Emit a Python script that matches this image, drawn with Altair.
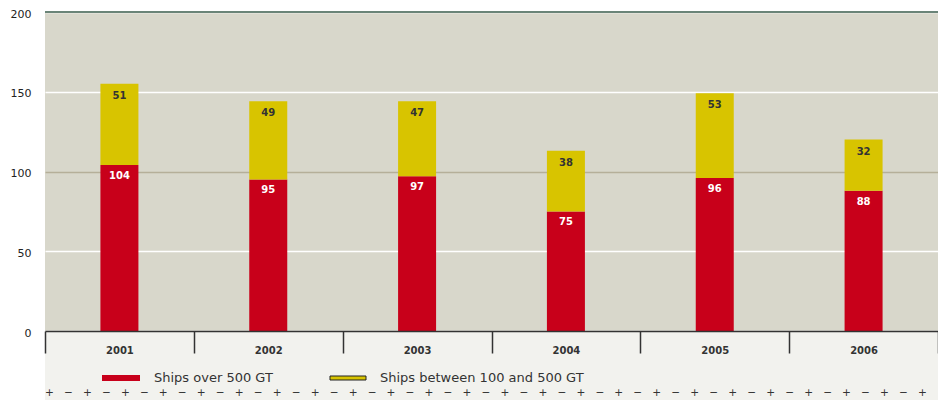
import altair as alt
import pandas as pd

# ---- data ----
years = ["2001", "2002", "2003", "2004", "2005", "2006"]
ships_over_500 = [104, 95, 97, 75, 96, 88]
ships_100_500 = [51, 49, 47, 38, 53, 32]
series_names = ["Ships over 500 GT", "Ships between 100 and 500 GT"]
y_ticks = [0, 50, 100, 150, 200]

# ---- styles ----
RED = "#c8001a"
YEL = "#d8c400"
BG = "#d8d7cb"
LIGHT = "#f2f2ee"
DARK = "#333333"
TOPLINE = "#6a8478"
TAN = "#b5af99"
FONT = "DejaVu Sans"
W, H = 893, 319
BAR_W = 38

df = pd.DataFrame({"year": years, "over": ships_over_500, "between": ships_100_500})
df["total"] = df["over"] + df["between"]

x_enc = alt.X(
    "year:N",
    sort=years,
    scale=alt.Scale(paddingInner=0, paddingOuter=0),
    axis=alt.Axis(
        title=None, labelAngle=0, tickBand="extent", tickSize=22, tickColor=DARK,
        tickWidth=1.5, domainColor=DARK, domainWidth=1.5, labelFont=FONT,
        labelFontSize=10, labelFontWeight="bold", labelColor=DARK,
        labelPadding=-8, labelBaseline="top", zindex=2,
    ),
)
y_scale = alt.Scale(domain=[0, 200], nice=False)
y_axis = alt.Axis(
    title=None, values=y_ticks, ticks=False, domain=False, labelPadding=14,
    labelFont=FONT, labelFontSize=11, labelColor="#222222", labelOffset=2,
    gridColor={"condition": {"test": "datum.value === 100", "value": TAN}, "value": "#ffffff"},
    gridWidth=1.5,
)

base = alt.Chart(df)

red_bars = base.mark_bar(color=RED, width=BAR_W).encode(
    x=x_enc, y=alt.Y("over:Q", scale=y_scale, axis=y_axis, stack=None)
)
yel_bars = base.mark_bar(color=YEL, width=BAR_W).encode(
    x=x_enc, y=alt.Y("total:Q", scale=y_scale), y2="over:Q"
)
red_text = base.mark_text(color="white", dy=11, font=FONT, fontSize=10, fontWeight="bold").encode(
    x=x_enc, y=alt.Y("over:Q", scale=y_scale), text="over:Q"
)
yel_text = base.mark_text(color=DARK, dy=12, font=FONT, fontSize=10, fontWeight="bold").encode(
    x=x_enc, y=alt.Y("total:Q", scale=y_scale), text="between:Q"
)
top_rule = alt.Chart(pd.DataFrame({"v": [y_ticks[-1]]})).mark_rule(color=TOPLINE, strokeWidth=2).encode(
    y=alt.Y("v:Q", scale=y_scale)
)

one = pd.DataFrame({"a": [0]})
bottom_band = alt.Chart(one).mark_rect(color=LIGHT).encode(
    x=alt.value(0), x2=alt.value(W), y=alt.value(H), y2=alt.value(H + 90)
)

leg_df = pd.DataFrame({"name": series_names})
leg_red = alt.Chart(one).mark_rect(color=RED).encode(
    x=alt.value(57), x2=alt.value(95), y=alt.value(H + 44), y2=alt.value(H + 50)
)
leg_yel = alt.Chart(one).mark_rect(color=YEL, stroke="#222222", strokeWidth=1).encode(
    x=alt.value(285), x2=alt.value(321), y=alt.value(H + 45), y2=alt.value(H + 49)
)
leg_t1 = alt.Chart(leg_df).transform_filter(alt.datum.name == series_names[0]).mark_text(
    align="left", baseline="middle", font=FONT, fontSize=13, color=DARK
).encode(x=alt.value(109), y=alt.value(H + 47), text="name:N")
leg_t2 = alt.Chart(leg_df).transform_filter(alt.datum.name == series_names[1]).mark_text(
    align="left", baseline="middle", font=FONT, fontSize=13, color=DARK
).encode(x=alt.value(335), y=alt.value(H + 47), text="name:N")

nb = "\u00a0"
cross_str = ("+" + nb * 3 + "\u2212" + nb * 3) * 23 + "+"
crosses = alt.Chart(pd.DataFrame({"s": [cross_str]})).mark_text(
    align="left", baseline="middle", font=FONT, fontSize=10.6, color=DARK
).encode(x=alt.value(0), y=alt.value(H + 62), text="s:N")

chart = alt.layer(
    bottom_band, red_bars, yel_bars, top_rule, red_text, yel_text,
    leg_red, leg_yel, leg_t1, leg_t2, crosses,
).properties(
    width=W, height=H,
    padding={"left": 37, "top": 4, "right": 0, "bottom": 69},
    autosize="none",
).configure_view(fill=BG, stroke=None)

chart.save("out.html", embed_options={"renderer": "svg", "actions": False})
